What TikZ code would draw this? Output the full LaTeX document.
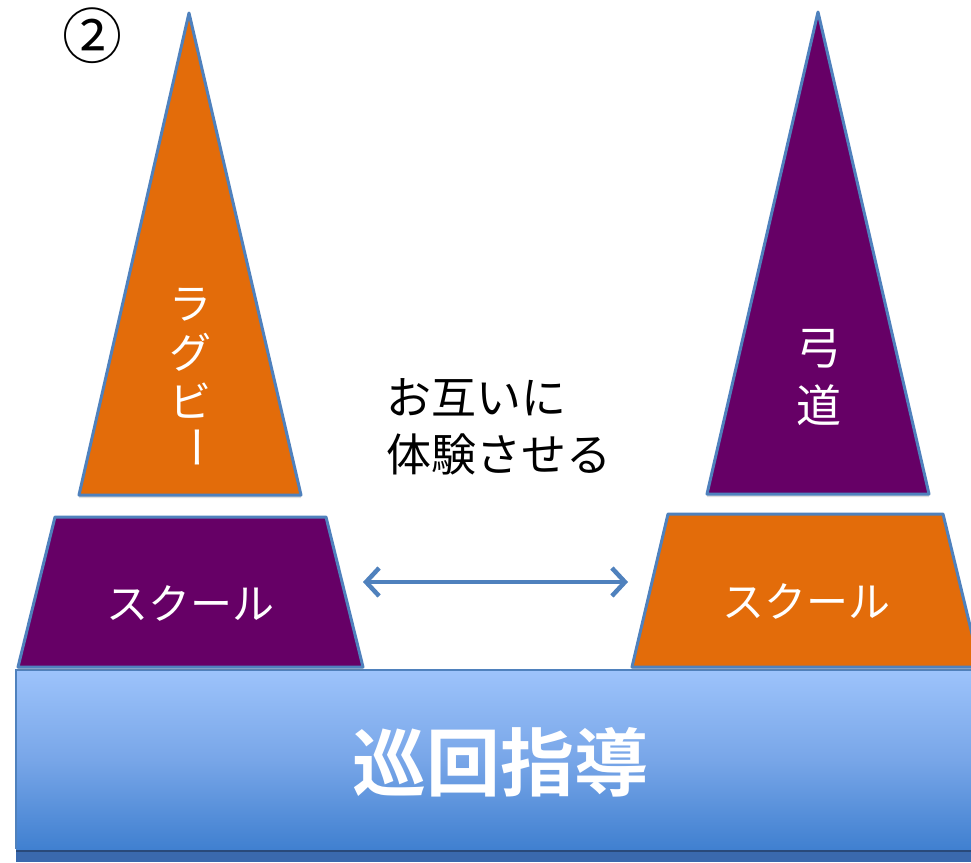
\documentclass[tikz,border=0pt]{standalone}
\usepackage{fontspec}
\newfontfamily\jp{Noto Sans CJK JP}[BoldFont={Noto Sans CJK JP Bold}]
\usetikzlibrary{arrows.meta,shadows}
\definecolor{orng}{HTML}{E36C0A}
\definecolor{purp}{HTML}{660066}
\definecolor{edge}{HTML}{4F81BD}
\definecolor{btop}{HTML}{9DC3FB}
\definecolor{bmid}{HTML}{78A6E8}
\definecolor{bbot}{HTML}{4080D0}
\definecolor{bdark}{HTML}{3A69AE}
\begin{document}
\begin{tikzpicture}[x=1pt,y=-1pt,
  towerpart/.style={draw=edge,line width=3pt,line join=round,
    drop shadow={opacity=0.25,shadow xshift=0pt,shadow yshift=-3pt}},
  wtxt/.style={text=white,font=\jp\fontsize{42}{42}\selectfont,inner sep=0pt},
  btxt/.style={text=black,font=\jp\fontsize{45}{57}\selectfont,align=left,inner sep=0pt}]
\useasboundingbox (0,0) rectangle (971,862);
\fill[white] (0,0) rectangle (971,862);
% base box
\fill[bdark] (16,845) rectangle (975,862);
\fill[black!30!bdark] (16,848) rectangle (975,852);
\shade[top color=btop,bottom color=bbot,middle color=bmid] (16,670) rectangle (975,849);
\draw[edge,line width=2pt] (16,849) -- (16,670) -- (975,670);
\node[text=white,font=\jp\bfseries\fontsize{74}{74}\selectfont,inner sep=0pt] (base) at (500,762) {巡回指導};
% left tower
\filldraw[towerpart,fill=orng] (189,13) -- (301,495) -- (79,495) -- cycle;
\filldraw[towerpart,fill=purp] (55,517) -- (326,517) -- (363,667) -- (18,667) -- cycle;
% right tower
\filldraw[towerpart,fill=purp] (818,12) -- (929,494) -- (707,494) -- cycle;
\filldraw[towerpart,fill=orng] (668,514) -- (943,514) -- (980,667) -- (632,667) -- cycle;
% texts
\node[wtxt] (r1) at (190,305) {ラ};
\node[wtxt] (r2) at (190,352) {グ};
\node[wtxt] (r3) at (190,401) {ビ};
\node[wtxt,rotate=-90,font=\jp\fontsize{44}{44}\selectfont] (r4) at (190,447) {ー};
\node[wtxt,font=\jp\fontsize{45}{45}\selectfont] (k1) at (819,349) {弓};
\node[wtxt,font=\jp\fontsize{45}{45}\selectfont] (k2) at (819,405) {道};
\node[wtxt] (s1) at (190,603) {スクール};
\node[wtxt] (s2) at (806,601) {スクール};
\node[btxt,anchor=north west] (mid) at (386,378) {お互いに\\体験させる};
\node[text=black,font=\jp\fontsize{60}{60}\selectfont,inner sep=0pt] (num) at (92,36) {②};
% arrow
\coordinate (aL) at (363,582);
\coordinate (aR) at (628,582);
\draw[edge,line width=4.5pt,{Straight Barb[length=13pt,width=28pt]}-{Straight Barb[length=13pt,width=28pt]}] (aL) -- (aR);
\end{tikzpicture}
\end{document}
